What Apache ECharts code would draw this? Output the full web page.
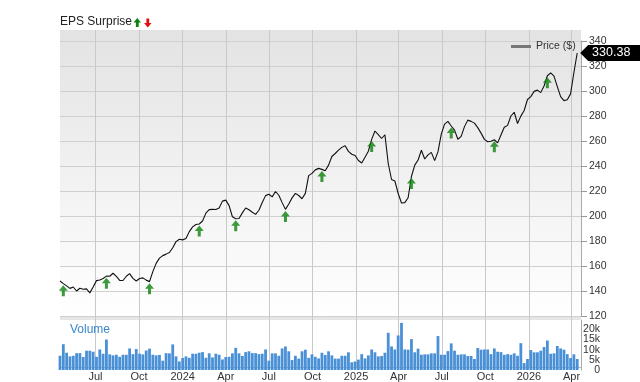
<!DOCTYPE html>
<html><head><meta charset="utf-8">
<script src="https://cdn.jsdelivr.net/npm/echarts@6/dist/echarts.min.js"></script>
<style>html,body{margin:0;padding:0;background:#fff}#c{width:640px;height:382px}</style>
</head><body><div id="c"></div>
<script>
// ---------- data ----------
const firstWeek = '2023-04-17';
const axisStart = '2023-04-17';
const axisEnd = '2026-04-21';
const priceValues = [
148,145.9,144.1,142.1,143.2,140,142.2,141.4,141.7,138.5,
143.2,148.3,148.8,150,151.9,151.8,154.2,151.7,148.5,148.4,
151.8,153.9,150.1,148,150,150.5,148.7,147.5,155.5,162.1,
166.3,168.3,169.5,170.8,174.6,179.5,181.4,180.9,182,187.5,
191.3,193.2,193.6,196,202.3,205.1,205.3,205.2,206.4,211.9,
212.7,208.3,199.4,197.8,198,202.5,206.4,205,203,201.3,
204.6,210.8,216.3,217.4,215.3,219.6,216.6,210.7,205.3,209.6,
214.5,218.1,216.4,213.8,218.1,232.3,234.1,236.9,238.1,237.3,
236.2,240.7,247.6,250,252.7,254.9,256.2,251.7,249.4,248.4,
244.4,242.4,247,251.8,261.3,268,265.1,262,265,242,
229.2,228,218,210.4,210.7,214.6,231.6,240.7,244.8,252.6,
245.6,248.9,250.9,244.3,251.3,265.5,273.5,275.7,272,268.7,
261.4,263.7,271.5,276.7,275.7,274.3,270.7,266.3,261.3,259.4,
259.8,261,258.5,264.8,271,272.5,280,283,274,279.9,
284.4,293.2,295.5,299.7,300.7,298.7,304,312.2,314.5,311.9,
303.5,295.5,292.3,293,297.7,314.8,330.38];
const volumeValues = [ // thousands
7.0,12.7,8.5,6.7,7.0,8.3,8.3,6.4,9.5,9.5,
9.0,6.5,10.1,8.0,15.0,7.7,7.2,7.5,6.5,7.5,
7.5,10.6,7.8,10.3,8.0,7.7,9.6,10.5,7.5,7.2,
7.4,4.6,8.3,8.2,12.6,6.7,4.2,5.9,6.7,6.0,
8.0,8.0,8.5,8.8,6.0,8.2,6.2,8.0,7.5,5.2,
6.4,6.5,8.2,10.9,8.2,6.9,8.8,9.2,8.3,8.3,
7.8,8.0,10.1,4.6,8.2,8.2,7.0,10.6,11.6,9.2,
4.9,7.0,5.6,9.2,10.0,6.0,7.7,6.5,
5.7,8.5,7.4,9.2,7.2,5.6,5.6,7.0,7.0,8.7,
3.8,4.2,5.1,7.8,5.7,7.2,10.1,8.7,6.7,6.9,
8.5,18.3,11.6,10.1,17.0,23.2,10.1,10.0,15.2,8.7,
10.5,7.5,7.7,7.7,8.2,8.2,16.7,7.5,7.5,9.3,
13.1,9.5,7.5,7.7,7.7,6.9,6.9,5.4,10.8,10.0,
10.1,10.1,7.8,10.6,9.0,8.8,7.5,7.8,7.5,8.2,
7.0,13.2,3.4,5.4,9.8,8.7,8.7,9.5,11.3,14.5,
8.0,8.2,11.8,10.6,10.0,7.8,5.9,7.7,5.4];
const epsUpDates = ['2023-04-24','2023-07-24','2023-10-23','2024-02-05','2024-04-22','2024-08-05',
  '2024-10-21','2025-02-03','2025-04-28','2025-07-21','2025-10-20','2026-02-09'];
const xTickDates = ['2023-07-01','2023-10-01','2024-01-01','2024-04-01','2024-07-01','2024-10-01',
  '2025-01-01','2025-04-01','2025-07-01','2025-10-01','2026-01-01','2026-04-01'];
const priceTicks = [120,140,160,180,200,220,240,260,280,300,320,340];
const volumeTicks = [0,5,10,15,20];

// ---------- build ----------
const FONT = "'Liberation Sans', Arial, Helvetica, sans-serif";
function d(s){const p=s.split('-').map(Number);return new Date(p[0],p[1]-1,p[2]).getTime();}
const w0 = new Date(d(firstWeek));
const weekTimes = priceValues.map((_, i) => new Date(w0.getFullYear(), w0.getMonth(), w0.getDate() + 7 * i).getTime());
const tMin = d(axisStart), tMax = d(axisEnd);
const xTicks = xTickDates.map(d);
const MON = ['Jan','Feb','Mar','Apr','May','Jun','Jul','Aug','Sep','Oct','Nov','Dec'];
function nearestIdx(t){let b=0,bd=Infinity;weekTimes.forEach((w,i)=>{const dd=Math.abs(w-t);if(dd<bd){bd=dd;b=i;}});return b;}
const epsData = epsUpDates.map(s => { const i = nearestIdx(d(s)); return [weekTimes[i], priceValues[i]]; });
const lastIdx = priceValues.length - 1;
const GREEN = '#0c820c';

const chart = echarts.init(document.getElementById('c'));
const baseGraphics = [
    {type: 'rect', z: -10, silent: true, shape: {x: 60, y: 30, width: 521, height: 287},
      style: {fill: new echarts.graphic.LinearGradient(0, 0, 0, 1, [{offset: 0, color: '#e3e3e3'}, {offset: 1, color: '#ffffff'}])}},
    {type: 'rect', z: -9, silent: true, shape: {x: 60, y: 317, width: 521, height: 3}, style: {fill: '#e6e6e6'}},
    {type: 'text', left: 60, top: 16, style: {text: 'EPS Surprise', fontSize: 12, fill: '#222', fontFamily: FONT}},
    {type: 'polygon', shape: {points: [[137.3, 18], [141, 22.5], [138.7, 22.5], [138.7, 27], [135.9, 27], [135.9, 22.5], [133.6, 22.5]]}, style: {fill: GREEN}},
    {type: 'polygon', shape: {points: [[147.8, 27.5], [151.5, 23], [149.2, 23], [149.2, 18.5], [146.4, 18.5], [146.4, 23], [144.1, 23]]}, style: {fill: '#e01010'}},
    {type: 'text', left: 70, top: 324, style: {text: 'Volume', fontSize: 12, fill: '#3a88cc', fontFamily: FONT}}
];
chart.setOption({
  animation: false,
  textStyle: {fontFamily: FONT},
  grid: [
    {left: 60, right: 59, top: 30, bottom: 12},
    {left: 60, right: 59, top: 41, bottom: 66},
    {left: 60, right: 59, top: 320, bottom: 12}
  ],
  legend: {
    data: [{name: 'Price ($)', icon: 'rect', itemStyle: {color: '#777'}}],
    left: 506, top: 36, itemWidth: 20, itemHeight: 3, itemGap: 5, selectedMode: false,
    textStyle: {fontSize: 10.5, color: '#333', fontFamily: FONT}
  },
  graphic: baseGraphics,
  xAxis: [
    {gridIndex: 0, type: 'value', min: tMin, max: tMax,
      axisLine: {show: true, lineStyle: {color: '#bbb'}},
      axisTick: {show: false, customValues: xTicks},
      axisLabel: {customValues: xTicks, fontSize: 11, color: '#333', margin: 4, fontFamily: FONT,
        formatter: v => { const dt = new Date(v); return dt.getMonth() === 0 ? String(dt.getFullYear()) : MON[dt.getMonth()]; }},
      splitLine: {show: true, lineStyle: {color: '#c9c9c9', width: 1}}},
    {gridIndex: 1, type: 'value', min: tMin, max: tMax, show: false},
    {gridIndex: 2, type: 'value', min: tMin, max: tMax, show: false}
  ],
  yAxis: [
    {gridIndex: 0, type: 'value', min: 0, max: 1, show: false},
    {gridIndex: 1, type: 'value', position: 'right', min: priceTicks[0], max: priceTicks[priceTicks.length - 1], interval: 20,
      axisLine: {show: true, lineStyle: {color: '#aaa'}},
      axisTick: {show: true, length: 6, lineStyle: {color: '#999'}},
      axisLabel: {margin: 8, fontSize: 10.5, color: '#333', fontFamily: FONT, showMinLabel: true, showMaxLabel: true},
      splitLine: {show: true, lineStyle: {color: '#cfcfcf'}}},
    {gridIndex: 2, type: 'value', position: 'right', min: 0, max: 24.6,
      axisLine: {show: true, lineStyle: {color: '#aaa'}},
      axisTick: {show: false}, axisLabel: {show: false}, splitLine: {show: false}}
  ],
  series: [
    {name: 'Price ($)', type: 'line', xAxisIndex: 1, yAxisIndex: 1, showSymbol: false, z: 3,
      data: weekTimes.map((t, i) => [t, priceValues[i]]),
      lineStyle: {color: '#111', width: 1.1}, itemStyle: {color: '#111'},
      markPoint: {
        symbol: 'path://M0,8 L8,0 L62,0 L62,16 L8,16 Z', symbolSize: [62, 16], symbolKeepAspect: false,
        symbolOffset: [34, 0], itemStyle: {color: '#000'},
        label: {show: true, position: 'inside', color: '#fff', fontSize: 12.5, fontFamily: FONT, formatter: () => priceValues[lastIdx].toFixed(2)},
        data: [{coord: [weekTimes[lastIdx], priceValues[lastIdx]]}]
      }},
    {name: 'EPS up', type: 'scatter', xAxisIndex: 1, yAxisIndex: 1, z: 4,
      symbol: 'path://M4.5,0 L9,5.5 L6,5.5 L6,11 L3,11 L3,5.5 L0,5.5 Z', symbolSize: [9, 11], symbolOffset: [0, 7],
      itemStyle: {color: GREEN}, data: epsData},
    {name: 'Volume', type: 'bar', xAxisIndex: 2, yAxisIndex: 2, barWidth: 2.8,
      itemStyle: {color: '#4a90d6'},
      data: weekTimes.map((t, i) => [t, volumeValues[i]])}
  ]
});
// volume axis tick labels, placed through the volume axis scale
const volLabels = volumeTicks.map(v => ({
  type: 'text', x: 600, y: chart.convertToPixel({yAxisIndex: 2}, v),
  style: {text: v === 0 ? '0' : v + 'k', fontSize: 10.5, fill: '#333', fontFamily: FONT, align: 'right', verticalAlign: 'middle'}
}));
chart.setOption({graphic: baseGraphics.concat(volLabels)}, {replaceMerge: ['graphic']});
</script></body></html>
